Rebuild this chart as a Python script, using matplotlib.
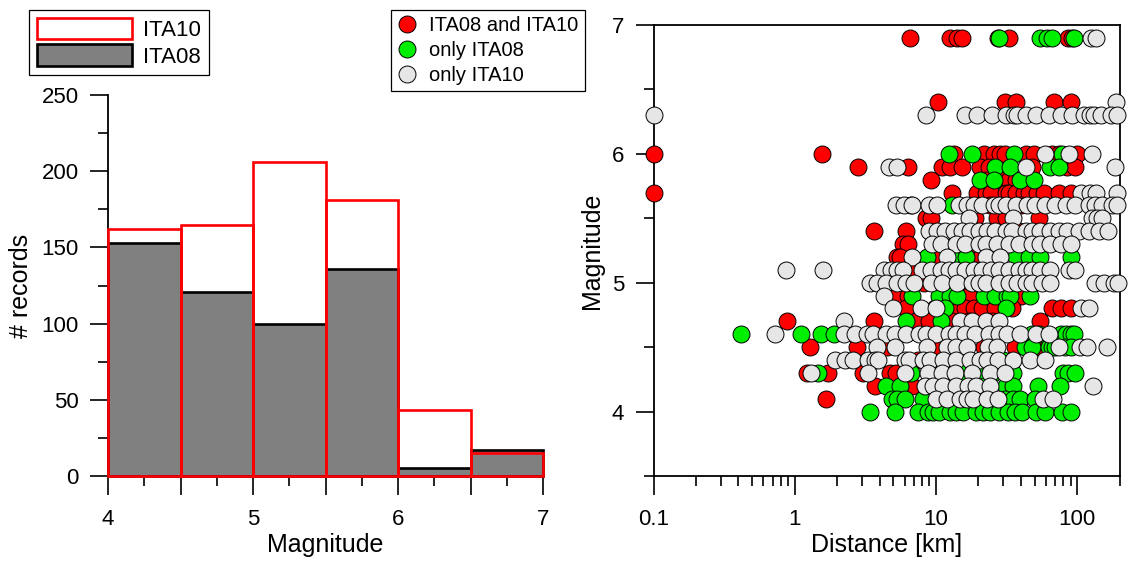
import matplotlib
matplotlib.use('Agg')
import matplotlib.pyplot as plt
from matplotlib.patches import Patch
from matplotlib.lines import Line2D
from matplotlib.ticker import FixedLocator, NullFormatter, LogLocator

plt.rcParams['font.family'] = ['Liberation Sans', 'DejaVu Sans']

# --- histogram data (counts per magnitude bin)
BIN_EDGES = [4.0, 4.5, 5.0, 5.5, 6.0, 6.5, 7.0]
ITA10_COUNTS = [162, 165, 206, 181, 43, 15]
ITA08_COUNTS = [153, 121, 100, 136, 5, 17]

# --- scatter data: (magnitude, [distances in km])
BOTH_ROWS = [
    (6.9, [6.6, 12.7, 14.1, 15.4, 27.5, 32.9, 86, 92]),
    (6.4, [10.3, 31, 37, 69, 90]),
    (6.0, [0.1, 1.57, 13.4, 21.9, 25.8, 28.7, 31, 43.3, 49.5, 66.7, 75, 100]),
    (5.9, [2.8, 6.3, 11.1, 12.7, 15.4, 20.7, 23.7, 48, 85, 97.5]),
    (5.8, [9.2, 22.5, 29, 33, 37, 44]),
    (5.7, [0.1, 13.0, 19.6, 22.6, 24.5, 31.2, 32.9, 36.7, 42, 45.6, 52, 58, 74, 90]),
    (5.6, [6.7, 24, 40]),
    (5.5, [8.45, 9.2, 19, 27.2, 31.2, 53.6]),
    (5.4, [3.65, 6.1, 38.7]),
    (5.3, [5.9, 6.4, 37.4]),
    (5.2, [5.3, 5.6, 9.5, 18.5, 21, 25]),
    (5.1, [7.2, 19, 38]),
    (5.0, [8.2, 12, 15.3, 26.4]),
    (4.9, [5.3, 6.3, 17.1, 38.7, 40]),
    (4.8, [6.1, 9.8, 14.6, 16.2, 18.6, 21.3, 26.4, 34.7, 66.7, 76.4, 90]),
    (4.7, [0.88, 3.65, 7.2, 8.9, 13, 17.1, 25, 55]),
    (4.6, [25]),
    (4.5, [1.28, 2.75, 4.5, 10, 22, 36.4, 56]),
    (4.4, [7.5]),
    (4.3, [1.22, 1.73, 3.06, 4.73, 5.2]),
    (4.2, [3.7, 6.1, 6.8]),
    (4.1, [1.67]),
]

ONLY08_ROWS = [
    (6.9, [28.2, 55, 61, 66, 95]),
    (6.0, [12.4, 18.1, 35.7, 77.7]),
    (5.9, [26.4, 33.7, 64.8, 74]),
    (5.8, [20.7, 25.8, 39.7, 49.5]),
    (5.6, [13.0]),
    (5.3, [11]),
    (5.2, [8.6, 14.6, 16.3, 36.7, 45.6, 55, 90]),
    (4.9, [6.8, 10.5, 12.7, 14.2, 21.9, 26.4, 31.8, 33.7, 46.8]),
    (4.8, [11.7, 31.2]),
    (4.7, [6.1, 10.8]),
    (4.6, [0.42, 1.11, 1.53, 1.91, 48, 53.6, 77, 83, 90, 95]),
    (4.5, [43, 48, 63, 66.5, 70, 82, 91]),
    (4.4, [15, 21, 30]),
    (4.3, [1.47, 6.7, 15.6, 20, 25.5, 35.3, 80, 87, 97]),
    (4.2, [4.4, 5.6, 10, 22, 31.2, 35.3, 53, 76]),
    (4.1, [4.9, 5.3, 6.0, 8.1, 12.9, 31, 35.3, 39.4, 50]),
    (4.0, [3.4, 5.1, 7.5, 8.8, 9.5, 10.5, 12.5, 14, 15.6, 19.3, 21.5, 24, 28,
           32.5, 36.5, 41, 51, 59, 78, 91]),
]

ONLY10_ROWS = [
    (6.9, [126, 136]),
    (6.4, [190]),
    (6.3, [0.1, 8.5, 16.0, 19.6, 25.0, 31.2, 35.7, 37.7, 43.3, 50.9, 63, 76.4,
           92, 112, 124, 131, 147, 173, 192]),
    (6.0, [59.8, 87.5, 127]),
    (5.9, [4.65, 5.3, 43.3, 187]),
    (5.7, [106, 124, 137, 192]),
    (5.6, [5.2, 5.93, 6.8, 8.9, 10.2, 14.6, 16.7, 18.6, 21.3, 25.8, 27.9, 31.2,
           36.7, 44.3, 50.8, 59.8, 70.4, 83, 97.5, 121, 135, 151, 177, 192]),
    (5.5, [17.1, 35, 128, 138, 151]),
    (5.4, [8.9, 10.2, 11.7, 13.4, 15.4, 17.6, 20.2, 23.1, 26.4, 31.2, 34.7,
           43.3, 48, 55, 64.8, 74, 84.5, 103, 121, 142, 167]),
    (5.3, [9.4, 10.8, 13.8, 16.2, 20.2, 22.5, 27.2, 32.9, 38.7, 48, 55, 64.8,
           76.4, 90]),
    (5.2, [6.8, 12.0, 22.5, 28.7]),
    (5.1, [0.87, 1.6, 4.3, 4.8, 5.3, 5.9, 8.0, 9.2, 10.8, 12.4, 13.8, 16.2,
           18.6, 21.3, 24.4, 27.9, 32.9, 38.7, 43.3, 48, 55, 64.8, 87.5, 97.5]),
    (5.0, [3.4, 3.85, 4.4, 5.3, 6.1, 7.0, 9.2, 11.1, 14.2, 18.1, 20.2, 22.5,
           27.9, 32.9, 37.7, 43.3, 48, 56.5, 64.8, 135, 155, 182, 195]),
    (4.9, [4.3]),
    (4.8, [5.0, 7.8, 10, 106, 121]),
    (4.7, [2.25, 14.9, 18.1, 22.5, 27.9]),
    (4.6, [0.73, 2.22, 2.68, 3.24, 3.6, 4.4, 5.1, 6.1, 7.6, 8.45, 10, 12.4, 14,
           16.2, 19, 23.7, 28, 32, 39.7, 50.9, 63]),
    (4.5, [3.8, 5.1, 8.6, 11.9, 14, 16.5, 23.5, 27, 75, 105, 117, 162]),
    (4.4, [1.93, 2.27, 2.6, 3.3, 3.7, 3.9, 6.0, 6.5, 8.1, 9.1, 11.3, 14, 17.4,
           20.5, 22.9, 27.7, 35.3, 46.4, 59.3]),
    (4.3, [1.31, 3.3, 6.0, 8.8, 11, 13.6, 17.9, 24.2, 30.8]),
    (4.2, [8.4, 9.6, 11.3, 14, 16.9, 19.4, 24.2, 130]),
    (4.1, [10, 12, 14.8, 16.5, 18.4, 22.9, 27.7, 57.5, 67.7]),
]

# style
W, H = 1128, 570
TICK_SIZE = 16
LABEL_SIZE = 18
MS = 12.2           # marker diameter in points
GRAY_FILL = '#808080'
LIGHT = '#e6e6e6'


def _flatten(rows):
    xs, ys = [], []
    for mag, dists in rows:
        for d in dists:
            xs.append(d)
            ys.append(mag)
    return xs, ys


fig = plt.figure(figsize=(W / 100, H / 100), dpi=100)

#--- left panel: histogram
ax1 = fig.add_axes([108 / W, 94 / H, 435 / W, 381 / H])
lefts = BIN_EDGES[:-1]
ax1.bar(lefts, ITA08_COUNTS, width=0.5, align='edge', color=GRAY_FILL,
        edgecolor='black', linewidth=1.9, clip_on=False, zorder=2)
ax1.bar(lefts, ITA10_COUNTS, width=0.5, align='edge', facecolor='none',
        edgecolor='red', linewidth=1.9, clip_on=False, zorder=3)
ax1.set_xlim(4, 7)
ax1.set_ylim(0, 250)
ax1.spines['top'].set_visible(False)
ax1.spines['right'].set_visible(False)
ax1.spines['left'].set_linewidth(1.3)
ax1.spines['bottom'].set_linewidth(1.3)
ax1.set_xticks([4, 4.5, 5, 5.5, 6, 6.5, 7])
ax1.set_xticklabels(['4', '', '5', '', '6', '', '7'])
ax1.xaxis.set_minor_locator(FixedLocator([4.25, 4.75, 5.25, 5.75, 6.25, 6.75]))
ax1.set_yticks([0, 50, 100, 150, 200, 250])
ax1.yaxis.set_minor_locator(FixedLocator([25, 75, 125, 175, 225]))
ax1.tick_params(axis='x', which='major', length=14, width=1.2, pad=10, labelsize=TICK_SIZE)
ax1.tick_params(axis='x', which='minor', length=7, width=1.2)
ax1.tick_params(axis='y', which='major', length=13, width=1.2, pad=8, labelsize=TICK_SIZE)
ax1.tick_params(axis='y', which='minor', length=7, width=1.2)
ax1.set_xlabel('Magnitude', fontsize=LABEL_SIZE, labelpad=2)
ax1.set_ylabel('# records', fontsize=LABEL_SIZE, labelpad=6)

hist_handles = [Patch(facecolor='white', edgecolor='red', linewidth=1.9),
                Patch(facecolor=GRAY_FILL, edgecolor='black', linewidth=1.9)]
leg1 = fig.legend(hist_handles, ['ITA10', 'ITA08'], loc='upper left',
                  bbox_to_anchor=(29 / W, 1 - 10 / H), fontsize=16,
                  handlelength=4.3, handleheight=1.1, handletextpad=0.5,
                  labelspacing=0.15, borderpad=0.35, borderaxespad=0,
                  fancybox=False, edgecolor='black', framealpha=1)
leg1.get_frame().set_linewidth(0.9)

#--- right panel: scatter
ax2 = fig.add_axes([653.5 / W, 94 / H, 466 / W, 451 / H])
ax2.set_xscale('log')
for rows, col in [(BOTH_ROWS, 'red'), (ONLY08_ROWS, '#00ee00'), (ONLY10_ROWS, LIGHT)]:
    x, y = _flatten(rows)
    ax2.scatter(x, y, s=MS ** 2, c=col, edgecolors='black', linewidths=0.7,
                clip_on=False, zorder=3)
ax2.set_xlim(0.1, 200)
ax2.set_ylim(3.5, 7)
for sp in ax2.spines.values():
    sp.set_linewidth(1.3)
ax2.xaxis.set_major_locator(FixedLocator([0.1, 1, 10, 100]))
ax2.set_xticklabels(['0.1', '1', '10', '100'])
ax2.xaxis.set_minor_locator(LogLocator(base=10, subs=range(2, 10)))
ax2.xaxis.set_minor_formatter(NullFormatter())
ax2.set_yticks([4, 5, 6, 7])
ax2.yaxis.set_minor_locator(FixedLocator([3.5, 4.5, 5.5, 6.5]))
ax2.tick_params(axis='x', which='major', length=14, width=1.2, pad=10, labelsize=TICK_SIZE)
ax2.tick_params(axis='x', which='minor', length=7, width=1.2)
ax2.tick_params(axis='y', which='major', length=13, width=1.2, pad=8, labelsize=TICK_SIZE)
ax2.tick_params(axis='y', which='minor', length=7, width=1.2)
ax2.set_xlabel('Distance [km]', fontsize=LABEL_SIZE, labelpad=2)
ax2.set_ylabel('Magnitude', fontsize=LABEL_SIZE, labelpad=6)

dot_handles = [Line2D([], [], ls='none', marker='o', ms=MS, mfc=c, mec='black', mew=0.7)
               for c in ['red', '#00ee00', LIGHT]]
leg2 = fig.legend(dot_handles, ['ITA08 and ITA10', 'only ITA08', 'only ITA10'],
                  loc='upper left', bbox_to_anchor=(391 / W, 1 - 10 / H), fontsize=14.5,
                  handlelength=1.0, handletextpad=0.6, labelspacing=0.3,
                  borderpad=0.3, borderaxespad=0, fancybox=False,
                  edgecolor='black', framealpha=1)
leg2.get_frame().set_linewidth(0.9)

fig.savefig('out.png', dpi=100)
